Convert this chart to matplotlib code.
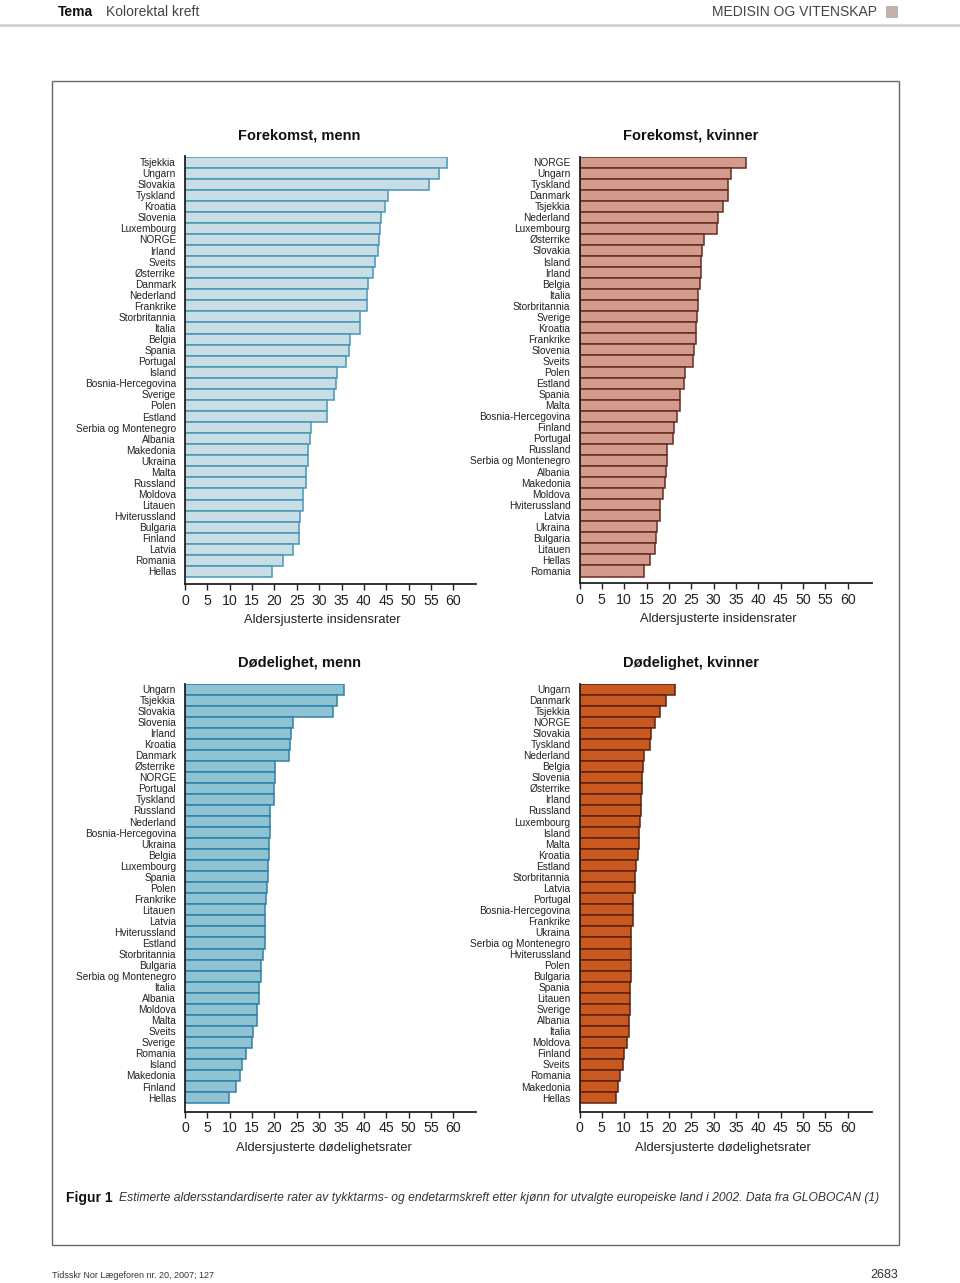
import matplotlib
matplotlib.use("Agg")
import matplotlib.pyplot as plt
from matplotlib.patches import Rectangle
from matplotlib.lines import Line2D
import numpy as np

plt.rcParams['font.family'] = ['Liberation Sans', 'DejaVu Sans']

# ---- Data ----
inc_men_countries = ["Tsjekkia", "Ungarn", "Slovakia", "Tyskland", "Kroatia", "Slovenia", "Luxembourg",
    "NORGE", "Irland", "Sveits", "Østerrike", "Danmark", "Nederland", "Frankrike", "Storbritannia",
    "Italia", "Belgia", "Spania", "Portugal", "Island", "Bosnia-Hercegovina", "Sverige", "Polen",
    "Estland", "Serbia og Montenegro", "Albania", "Makedonia", "Ukraina", "Malta", "Russland",
    "Moldova", "Litauen", "Hviterussland", "Bulgaria", "Finland", "Latvia", "Romania", "Hellas"]
inc_men_values = [58.5, 56.7, 54.5, 45.5, 44.7, 43.8, 43.6, 43.4, 43.1, 42.6, 42.1, 41.0, 40.8, 40.8,
    39.2, 39.2, 37.0, 36.7, 35.9, 34.1, 33.8, 33.4, 31.8, 31.7, 28.2, 28.0, 27.6, 27.5, 27.1, 27.0,
    26.5, 26.5, 25.8, 25.6, 25.5, 24.2, 22.0, 19.4]

inc_women_countries = ["NORGE", "Ungarn", "Tyskland", "Danmark", "Tsjekkia", "Nederland", "Luxembourg",
    "Østerrike", "Slovakia", "Island", "Irland", "Belgia", "Italia", "Storbritannia", "Sverige",
    "Kroatia", "Frankrike", "Slovenia", "Sveits", "Polen", "Estland", "Spania", "Malta",
    "Bosnia-Hercegovina", "Finland", "Portugal", "Russland", "Serbia og Montenegro", "Albania",
    "Makedonia", "Moldova", "Hviterussland", "Latvia", "Ukraina", "Bulgaria", "Litauen", "Hellas", "Romania"]
inc_women_values = [37.2, 33.8, 33.1, 33.1, 32.1, 30.9, 30.8, 27.8, 27.5, 27.1, 27.1, 26.9, 26.6, 26.5,
    26.3, 26.0, 26.0, 25.5, 25.3, 23.6, 23.3, 22.5, 22.5, 21.9, 21.2, 21.0, 19.6, 19.5, 19.4, 19.1,
    18.7, 18.1, 18.0, 17.4, 17.1, 16.9, 15.7, 14.5]

mort_men_countries = ["Ungarn", "Tsjekkia", "Slovakia", "Slovenia", "Irland", "Kroatia", "Danmark",
    "Østerrike", "NORGE", "Portugal", "Tyskland", "Russland", "Nederland", "Bosnia-Hercegovina",
    "Ukraina", "Belgia", "Luxembourg", "Spania", "Polen", "Frankrike", "Litauen", "Latvia",
    "Hviterussland", "Estland", "Storbritannia", "Bulgaria", "Serbia og Montenegro", "Italia",
    "Albania", "Moldova", "Malta", "Sveits", "Sverige", "Romania", "Island", "Makedonia", "Finland", "Hellas"]
mort_men_values = [35.6, 34.1, 33.2, 24.2, 23.6, 23.4, 23.3, 20.1, 20.1, 20.0, 20.0, 18.9, 18.9, 18.9,
    18.7, 18.7, 18.6, 18.5, 18.3, 18.2, 18.0, 18.0, 18.0, 17.9, 17.5, 17.1, 17.1, 16.5, 16.5, 16.2,
    16.2, 15.3, 14.9, 13.6, 12.8, 12.4, 11.5, 9.8]

mort_women_countries = ["Ungarn", "Danmark", "Tsjekkia", "NORGE", "Slovakia", "Tyskland", "Nederland",
    "Belgia", "Slovenia", "Østerrike", "Irland", "Russland", "Luxembourg", "Island", "Malta", "Kroatia",
    "Estland", "Storbritannia", "Latvia", "Portugal", "Bosnia-Hercegovina", "Frankrike", "Ukraina",
    "Serbia og Montenegro", "Hviterussland", "Polen", "Bulgaria", "Spania", "Litauen", "Sverige",
    "Albania", "Italia", "Moldova", "Finland", "Sveits", "Romania", "Makedonia", "Hellas"]
mort_women_values = [21.3, 19.3, 18.1, 16.9, 16.1, 15.7, 14.5, 14.2, 14.0, 14.0, 13.7, 13.7, 13.5, 13.3,
    13.2, 13.1, 12.7, 12.5, 12.3, 11.9, 11.9, 11.9, 11.6, 11.6, 11.6, 11.5, 11.5, 11.4, 11.4, 11.2,
    11.0, 11.0, 10.6, 9.9, 9.8, 9.1, 8.5, 8.1]

xticks = [0, 5, 10, 15, 20, 25, 30, 35, 40, 45, 50, 55, 60]

W, H = 960, 1283
fig = plt.figure(figsize=(W / 100, H / 100), dpi=100)

def fx(px):
    return px / W

def fy(py):
    return 1 - py / H

panels = [
    dict(countries=inc_men_countries, values=inc_men_values, title="Forekomst, menn",
         xlabel="Aldersjusterte insidensrater", fill="#c9dde4", edge="#4797b9",
         left=185, right=476, top=156.5, bottom=584, gap=7, title_x=299, title_y=136, xl_x=322),
    dict(countries=inc_women_countries, values=inc_women_values, title="Forekomst, kvinner",
         xlabel="Aldersjusterte insidensrater", fill="#d39b8c", edge="#6a2a22",
         left=579.5, right=872, top=156.5, bottom=583, gap=6.5, title_x=691, title_y=136, xl_x=718),
    dict(countries=mort_men_countries, values=mort_men_values, title="Dødelighet, menn",
         xlabel="Aldersjusterte dødelighetsrater", fill="#8fc2d3", edge="#2c82a8",
         left=185, right=476, top=683.5, bottom=1111.5, gap=8.4, title_x=299, title_y=663, xl_x=324),
    dict(countries=mort_women_countries, values=mort_women_values, title="Dødelighet, kvinner",
         xlabel="Aldersjusterte dødelighetsrater", fill="#c9591e", edge="#5c2210",
         left=579.5, right=872, top=683.5, bottom=1111.5, gap=8.4, title_x=691, title_y=663, xl_x=723),
]

scale = 268.3 / 60.0  # pixels per unit

for p in panels:
    left, right, top, bottom = p["left"], p["right"], p["top"], p["bottom"]
    ax = fig.add_axes([fx(left), fy(bottom), fx(right - left), (bottom - top) / H])
    n = len(p["countries"])
    y = np.arange(n)
    ax.barh(y, p["values"], height=1.0, color=p["fill"], edgecolor=p["edge"], linewidth=1.1)
    pitch = (bottom - p["gap"] - top) / n
    gap_units = p["gap"] / pitch
    ax.set_ylim(n - 0.5 + gap_units, -0.5)
    ax.set_xlim(0, (right - left) / scale)
    ax.set_yticks(y)
    ax.set_yticklabels(p["countries"], fontsize=7.3, color="#222222")
    ax.tick_params(axis="y", length=0, pad=6.5)
    ax.set_xticks(xticks)
    ax.set_xticklabels([str(t) for t in xticks], fontsize=10.2, color="#222222")
    ax.tick_params(axis="x", direction="out", length=4, width=1.0, pad=3, color="#222222")
    for s in ["top", "right"]:
        ax.spines[s].set_visible(False)
    for s in ["left", "bottom"]:
        ax.spines[s].set_linewidth(1.3)
        ax.spines[s].set_color("#222222")
    ax.set_xlabel(p["xlabel"], fontsize=9.3, color="#222222")
    ax.xaxis.set_label_coords((p["xl_x"] - left) / (right - left), -0.071)
    ax.patch.set_alpha(0)
    fig.text(fx(p["title_x"]), fy(p["title_y"]), p["title"], fontsize=10.5, fontweight="bold",
             ha="center", va="center", color="#111111")

# Frame box
fig.patches.append(Rectangle((fx(51.5), fy(1245)), fx(899 - 51.5), (1245 - 81) / H,
                             transform=fig.transFigure, fill=False, edgecolor="#666666", linewidth=1.0))

# Header
fig.text(fx(58), fy(12.5), "Tema", fontsize=10, fontweight="bold", ha="left", va="center", color="#111111")
fig.text(fx(106), fy(12.5), "Kolorektal kreft", fontsize=10, ha="left", va="center", color="#444444")
fig.text(fx(877), fy(12.5), "MEDISIN OG VITENSKAP", fontsize=10, ha="right", va="center", color="#444444")
fig.patches.append(Rectangle((fx(886), fy(18)), fx(12), 12 / H, transform=fig.transFigure,
                             facecolor="#c2b3aa", edgecolor="none"))
fig.lines.append(Line2D([0, 1], [fy(25), fy(25)], transform=fig.transFigure, color="#cccccc", linewidth=1.8))

# Caption
fig.text(fx(66), fy(1198), "Figur 1", fontsize=10, fontweight="bold", ha="left", va="center", color="#111111")
fig.text(fx(119), fy(1198),
         "Estimerte aldersstandardiserte rater av tykktarms- og endetarmskreft etter kjønn for utvalgte europeiske land i 2002. Data fra GLOBOCAN (1)",
         fontsize=8.75, style="italic", ha="left", va="center", color="#333333")

# Footer
fig.text(fx(52), fy(1275), "Tidsskr Nor Lægeforen nr. 20, 2007; 127", fontsize=6.5, ha="left", va="center", color="#333333")
fig.text(fx(898), fy(1275), "2683", fontsize=9, ha="right", va="center", color="#333333")

fig.savefig("out.png", dpi=100)
